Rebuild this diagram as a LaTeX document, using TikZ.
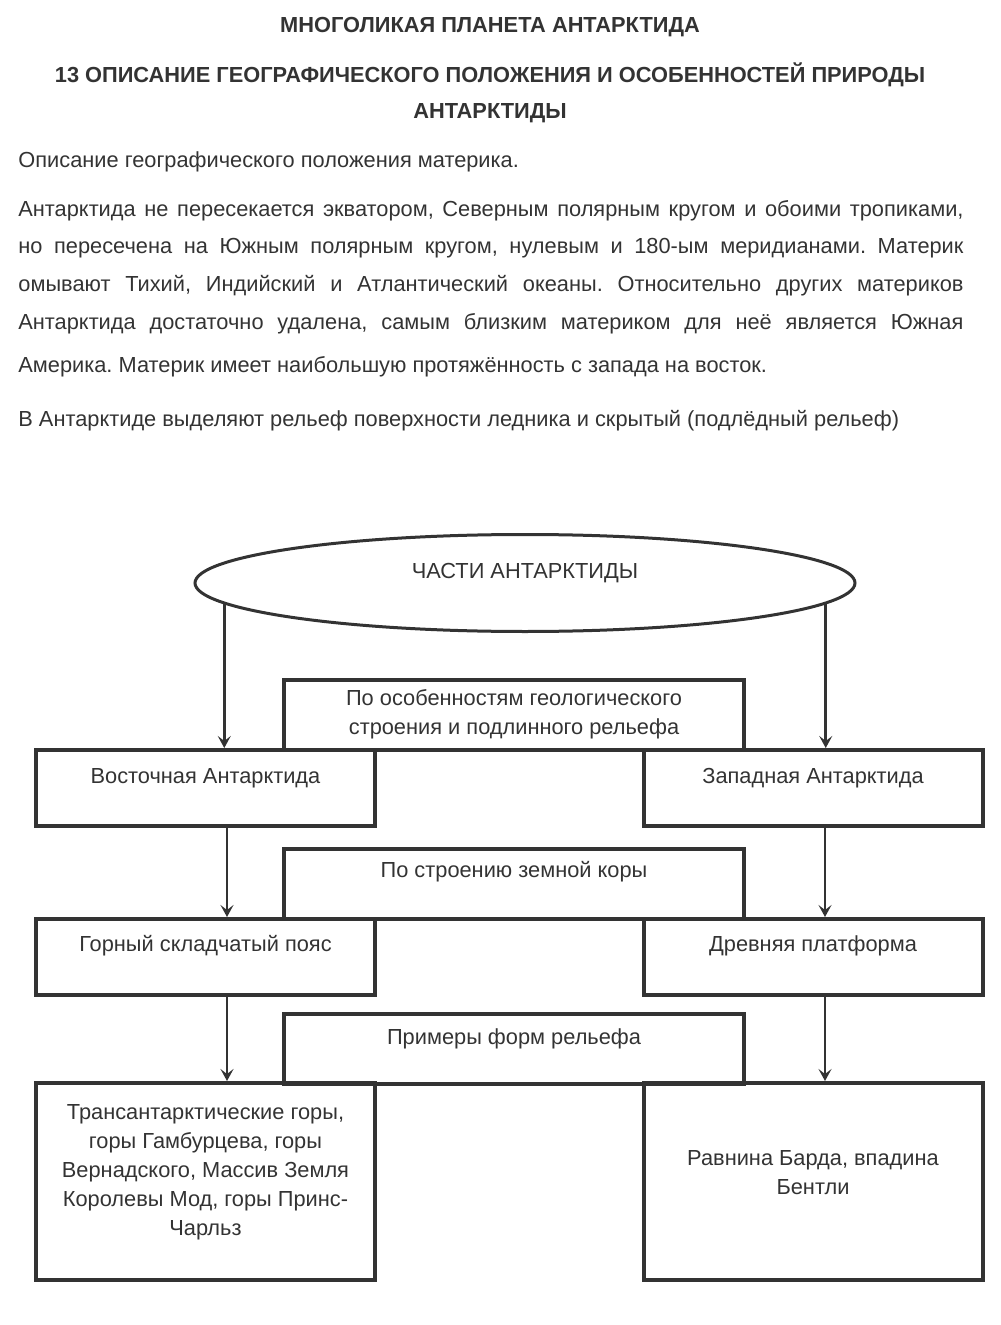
\documentclass[tikz,border=0pt]{standalone}
\usepackage{fontspec}
\setmainfont{Liberation Sans}
\usetikzlibrary{positioning,arrows.meta,shapes.geometric}
\definecolor{ink}{RGB}{51,51,51}
\frenchspacing

\begin{document}
\begin{tikzpicture}[
      x=0.5pt, y=-0.5pt,
      >={Stealth[length=6pt,width=6.5pt,inset=2.5pt]},
      head/.style={text=ink, font=\bfseries\fontsize{10.9}{13}\selectfont},
      para/.style={text=ink, anchor=west, inner sep=0pt,
                   font=\fontsize{10.9}{13}\selectfont},
      part/.style={ellipse, draw=ink, line width=1.5pt, inner sep=0pt,
                   minimum width=330pt, minimum height=48.5pt},
      box/.style={draw=ink, line width=2pt, inner sep=0pt,
                  minimum width=169.5pt, minimum height=38pt},
      basis/.style={draw=ink, line width=2pt, inner sep=0pt,
                    minimum width=230pt, minimum height=35pt},
      big/.style={draw=ink, line width=2pt, inner sep=0pt,
                  minimum width=169.5pt, minimum height=98.5pt},
      txt/.style={text=ink, align=center, inner sep=0pt,
                  font=\fontsize{10.9}{14.5}\selectfont},
      arr/.style={->, draw=ink, line width=1.4pt}
    ]
    \useasboundingbox (0,0) rectangle (1000,1325);
    % headings
    \node[head] (t1) at (490,27)  {МНОГОЛИКАЯ ПЛАНЕТА АНТАРКТИДА};
    \node[head] (t2) at (490,75)  {13 ОПИСАНИЕ ГЕОГРАФИЧЕСКОГО ПОЛОЖЕНИЯ И ОСОБЕННОСТЕЙ ПРИРОДЫ};
    \node[head] (t3) at (490,113) {АНТАРКТИДЫ};
    % description
    \node[para] (p1) at (18,162) {Описание географического положения материка.};
    \node[para] (p2) at (18,211) {\makebox[472.5pt][s]{Антарктида не пересекается экватором, Северным полярным кругом и обоими тропиками,}};
    \node[para] (p3) at (18,248) {\makebox[472.5pt][s]{но пересечена на Южным полярным кругом, нулевым и 180-ым меридианами. Материк}};
    \node[para] (p4) at (18,286) {\makebox[472.5pt][s]{омывают Тихий, Индийский и Атлантический океаны. Относительно других материков}};
    \node[para] (p5) at (18,324) {\makebox[472.5pt][s]{Антарктида достаточно удалена, самым близким материком для неё является Южная}};
    \node[para] (p6) at (18,367) {Америка. Материк имеет наибольшую протяжённость с запада на восток.};
    \node[para] (p7) at (18,421) {В Антарктиде выделяют рельеф поверхности ледника и скрытый (подлёдный рельеф)};

    % scheme
    \node[part] (part) at (525,583) {};
    \node[txt] at (525,573) {ЧАСТИ АНТАРКТИДЫ};
    \coordinate (lx) at (227,0);
    \coordinate (rx) at (825,0);

    \node[basis] (b1) at (514,714.5) {};
    \node[txt] at (514,714) {По особенностям геологического\\строения и подлинного рельефа};
    \node[box] (east) at (205.5,788) {};
    \node[txt] at (205.5,778) {Восточная Антарктида};
    \node[box] (west) at (813,788) {};
    \node[txt] at (813,778) {Западная Антарктида};

    \node[basis] (b2) at (514,883.5) {};
    \node[txt] at (514,872) {По строению земной коры};
    \node[box] (fold) at (205.5,957) {};
    \node[txt] at (205.5,946) {Горный складчатый пояс};
    \node[box] (plat) at (813,957) {};
    \node[txt] at (813,946) {Древняя платформа};

    \node[basis] (b3) at (514,1049) {};
    \node[txt] at (514,1039) {Примеры форм рельефа};
    \node[big] (mnt) at (205.5,1181.5) {};
    \node[txt] at (205.5,1172) {Трансантарктические горы,\\горы Гамбурцева, горы\\Вернадского, Массив Земля\\Королевы Мод, горы Принс-\\Чарльз};
    \node[big] (pln) at (813,1181.5) {};
    \node[txt] at (813,1172.5) {Равнина Барда, впадина\\Бентли};

    % arrows
    \draw[arr] (part.184.5) -- (part.184.5 |- east.north);
    \draw[arr] (part.356) -- (part.356 |- west.north);
    \draw[arr] (east.south -| lx) -- (fold.north -| lx);
    \draw[arr] (west.south -| rx) -- (plat.north -| rx);
    \draw[arr] (fold.south -| lx) -- (mnt.north -| lx);
    \draw[arr] (plat.south -| rx) -- (pln.north -| rx);
  \end{tikzpicture}
\end{document}
